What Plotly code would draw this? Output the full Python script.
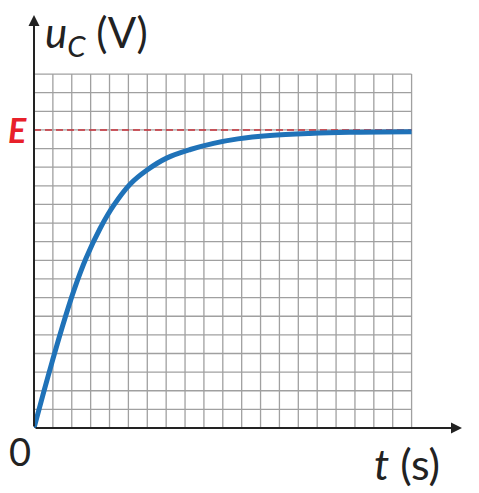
import plotly.graph_objects as go

# capacitor charging curve u_C(t) in grid cells
T_CELLS = [0, 0.52, 0.96, 1.49, 2.1, 2.75, 3.52, 4.22, 5.1, 5.99, 7.05, 8.28,
           9.51, 10.8, 12.5, 14.6, 16.7, 20]
U_CELLS = [0, 1.95, 3.55, 5.4, 7.35, 9.1, 10.75, 11.95, 13.1, 13.85, 14.5,
           14.95, 15.28, 15.52, 15.7, 15.81, 15.87, 15.9]

E_LEVEL = 16
N_X_CELLS = 20
N_Y_CELLS = 19

X_TIP = 22.67   # end of the t arrow
Y_TIP = 22.17   # end of the u_C arrow

FONT = "Lato"
INK = "#222222"

fig = go.Figure()

# grid paper
gx, gy = [], []
for i in range(N_X_CELLS + 1):
    gx += [i, i, None]
    gy += [0, N_Y_CELLS, None]
for j in range(N_Y_CELLS + 1):
    gx += [0, N_X_CELLS, None]
    gy += [j, j, None]
fig.add_trace(go.Scatter(x=gx, y=gy, mode="lines",
                         line=dict(color="#a0a0a0", width=1.3),
                         hoverinfo="skip", showlegend=False))

# asymptote E
fig.add_trace(go.Scatter(x=[0, N_X_CELLS], y=[E_LEVEL, E_LEVEL], mode="lines",
                         line=dict(color="#c8303a", width=1.5, dash="7px,4px"),
                         hoverinfo="skip", showlegend=False))

# the curve
fig.add_trace(go.Scatter(x=T_CELLS, y=U_CELLS, mode="lines",
                         line=dict(color="#1f72b8", width=5, shape="spline"),
                         showlegend=False))

# axes with arrows
fig.add_annotation(x=X_TIP, y=0, ax=0, ay=0, xref="x", yref="y", axref="x", ayref="y",
                   text="", showarrow=True, arrowhead=2, arrowsize=1.1,
                   arrowwidth=2, arrowcolor=INK)
fig.add_annotation(x=0, y=Y_TIP, ax=0, ay=0, xref="x", yref="y", axref="x", ayref="y",
                   text="", showarrow=True, arrowhead=2, arrowsize=1.1,
                   arrowwidth=2, arrowcolor=INK)


def label(x, y, text, size, color=INK, anchor="left"):
    # position given in grid cells, placed on paper so it can sit outside the axes
    fig.add_annotation(x=x / X_TIP, y=y / Y_TIP, xref="paper", yref="paper",
                       xanchor=anchor, yanchor="middle", text=text, showarrow=False,
                       font=dict(family=FONT, size=size, color=color))


label(0.5, 21.1, "<i>u</i><sub><i>C</i></sub> (V)", 42)
label(17.9, -1.9, "<i>t</i> (s)", 43)
label(-0.76, -1.23, "0", 38, anchor="center")
label(-0.86, E_LEVEL, "<b><i>E</i></b>", 34, color="#e8202a", anchor="center")

fig.update_xaxes(range=[0, X_TIP], visible=False, fixedrange=True)
fig.update_yaxes(range=[0, Y_TIP], visible=False, fixedrange=True)

fig.update_layout(
    width=471,
    height=485,
    margin=dict(l=26, r=17, t=7, b=65),
    plot_bgcolor="white",
    paper_bgcolor="white",
)

fig.write_html("out.html")
